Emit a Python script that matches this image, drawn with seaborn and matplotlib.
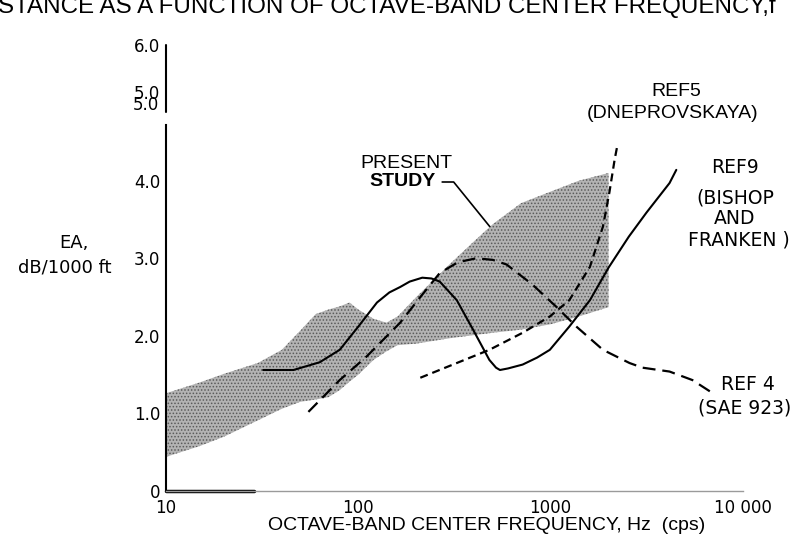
import matplotlib
matplotlib.use("Agg")
import matplotlib.pyplot as plt
import seaborn as sns

# shaded band "present study" (Hz, dB/1000 ft)
band_freq = [10, 15, 20, 30, 40, 50, 60, 70, 80, 90, 100, 120, 140, 160,
             200, 300, 400, 500, 700, 1000, 1400, 2000]
band_upper = [1.26, 1.40, 1.51, 1.65, 1.82, 2.07, 2.28, 2.34, 2.38, 2.43, 2.34,
              2.22, 2.17, 2.25, 2.50, 2.93, 3.22, 3.44, 3.71, 3.86, 4.00, 4.10]
band_lower = [0.44, 0.58, 0.70, 0.91, 1.06, 1.15, 1.18, 1.21, 1.30, 1.41, 1.50,
              1.69, 1.80, 1.88, 1.90, 1.97, 2.01, 2.04, 2.08, 2.15, 2.25, 2.37]

# Ref 9 (Bishop and Franken), solid
ref9_freq = [32, 46, 63, 80, 100, 125, 145, 165, 185, 215, 240, 265, 325, 395,
             480, 520, 545, 600, 715, 850, 990, 1250, 1600, 2000, 2550, 3150,
             4150, 4500]
ref9_ea = [1.56, 1.56, 1.66, 1.82, 2.12, 2.43, 2.56, 2.63, 2.70, 2.75, 2.74, 2.70,
           2.46, 2.08, 1.69, 1.59, 1.56, 1.58, 1.63, 1.72, 1.82, 2.12, 2.46, 2.88,
           3.28, 3.59, 3.97, 4.14]

# Ref 4 (SAE 923), long dashes
ref4_freq = [55, 80, 110, 165, 210, 265, 330, 410, 500, 590, 805, 1075, 1360,
             1870, 2570, 3000, 4150, 5460, 6970]
ref4_ea = [1.02, 1.43, 1.73, 2.17, 2.50, 2.81, 2.95, 3.00, 2.98, 2.92, 2.66, 2.37,
           2.12, 1.82, 1.65, 1.59, 1.54, 1.43, 1.26]

# Ref 5 (Dneprovskaya), short dashes
ref5_freq = [210, 325, 480, 715, 990, 1250, 1600, 1870, 2020, 2150, 2220]
ref5_ea = [1.46, 1.65, 1.82, 2.04, 2.25, 2.46, 2.89, 3.41, 3.85, 4.27, 4.45]

x_ticks = [10, 100, 1000, 10000]
x_tick_labels = ["10", "100", "1000", "10 000"]
y_ticks = [0, 1, 2, 3, 4, 5.15, 5.75]
y_tick_labels = ["0", "1.0", "2.0", "3.0", "4.0", "5.0", "6.0"]

W, H = 797, 541


def fp(x, y):
    # pixel position (from top-left) -> figure fraction
    return x / W, 1 - y / H


sns.set_theme(style="white")
plt.rcParams["font.family"] = ["DejaVu Sans"]
plt.rcParams["text.color"] = "black"
plt.rcParams["hatch.linewidth"] = 0.7

fig = plt.figure(figsize=(W / 100, H / 100), dpi=100)
ax = fig.add_axes([166 / W, 50 / H, (743 - 166) / W, (491 - 45) / H])

ax.fill_between(band_freq, band_lower, band_upper, facecolor="#b3b3b3",
                edgecolor="#5a5a5a", hatch=".....", linewidth=0)
sns.lineplot(x=ref9_freq, y=ref9_ea, ax=ax, color="black", lw=1.5)
sns.lineplot(x=ref4_freq, y=ref4_ea, ax=ax, color="black", lw=1.6,
             linestyle=(0, (5.8, 3.1)))
sns.lineplot(x=ref5_freq, y=ref5_ea, ax=ax, color="black", lw=1.6,
             linestyle=(0, (3.6, 2.2)))

ax.set_xscale("log")
ax.set_xlim(10, 10000)
ax.set_ylim(0, 5.75)
ax.set_xticks(x_ticks)
ax.set_xticklabels(x_tick_labels)
ax.minorticks_off()
ax.set_yticks(y_ticks)
ax.set_yticklabels(y_tick_labels)
ax.tick_params(axis="both", direction="in", length=7, width=1.2, colors="black",
               labelcolor="black", labelsize=12, pad=4)
ax.tick_params(axis="x", pad=6)

for side in ["top", "right"]:
    ax.spines[side].set_visible(False)
ax.spines["left"].set_color("black")
ax.spines["left"].set_linewidth(1.5)
ax.spines["left"].set_bounds(0, 4.72)
ax.axvline(10, ymin=4.89 / 5.75, ymax=1, color="black", lw=1.5, clip_on=False)
ax.spines["bottom"].set_color("#9a9a9a")
ax.spines["bottom"].set_linewidth(1.0)
ax.axhline(0, xmin=0, xmax=0.153, color="black", lw=2.5, clip_on=False)
ax.set_xlabel("")
ax.set_ylabel("")

sans = ["Liberation Sans", "DejaVu Sans"]

# title, cut off at the top edge as in the scan
fig.text(-0.002, 1 - 13 / H, "STANCE AS A FUNCTION OF OCTAVE-BAND CENTER FREQUENCY,f",
         fontsize=17.4, family=sans, ha="left", va="baseline")

fig.text(*fp(159, 105), "5.0", fontsize=12, ha="right", va="center")

fig.text(*fp(74, 243), "EA,", fontsize=13, ha="center", va="center")
fig.text(*fp(65, 267), "dB/1000 ft", fontsize=13, ha="center", va="center")
fig.text(*fp(487, 526), "OCTAVE-BAND CENTER FREQUENCY, Hz  (cps)",
         fontsize=14, family=sans, ha="center", va="center")

fig.text(*fp(406, 163), "PRESENT", fontsize=14, family=sans,
         ha="center", va="center")
ax.annotate("STUDY", xy=(482, 3.41), xycoords="data",
            xytext=fp(403, 182), textcoords="figure fraction",
            fontsize=14, family=sans, weight="bold", ha="center", va="center",
            arrowprops=dict(arrowstyle="-", color="black", lw=1.2, relpos=(1, 0.5),
                            shrinkA=2, shrinkB=0,
                            connectionstyle="angle,angleA=0,angleB=129,rad=0"))

fig.text(*fp(676, 92), "REF5", fontsize=14, family=sans, ha="center", va="center")
fig.text(*fp(673, 113), "(DNEPROVSKAYA)", fontsize=14, family=sans,
         ha="center", va="center")

fig.text(*fp(735, 168), "REF9", fontsize=13.5, ha="center", va="center")
fig.text(*fp(735, 198), "(BISHOP", fontsize=13.5, ha="center", va="center")
fig.text(*fp(735, 219), "AND", fontsize=13.5, ha="center", va="center")
fig.text(*fp(739, 240), "FRANKEN )", fontsize=13.5, ha="center", va="center")

fig.text(*fp(748, 385), "REF 4", fontsize=13.5, ha="center", va="center")
fig.text(*fp(745, 408), "(SAE 923)", fontsize=13.5, ha="center", va="center")

fig.savefig("out.png", dpi=100)
